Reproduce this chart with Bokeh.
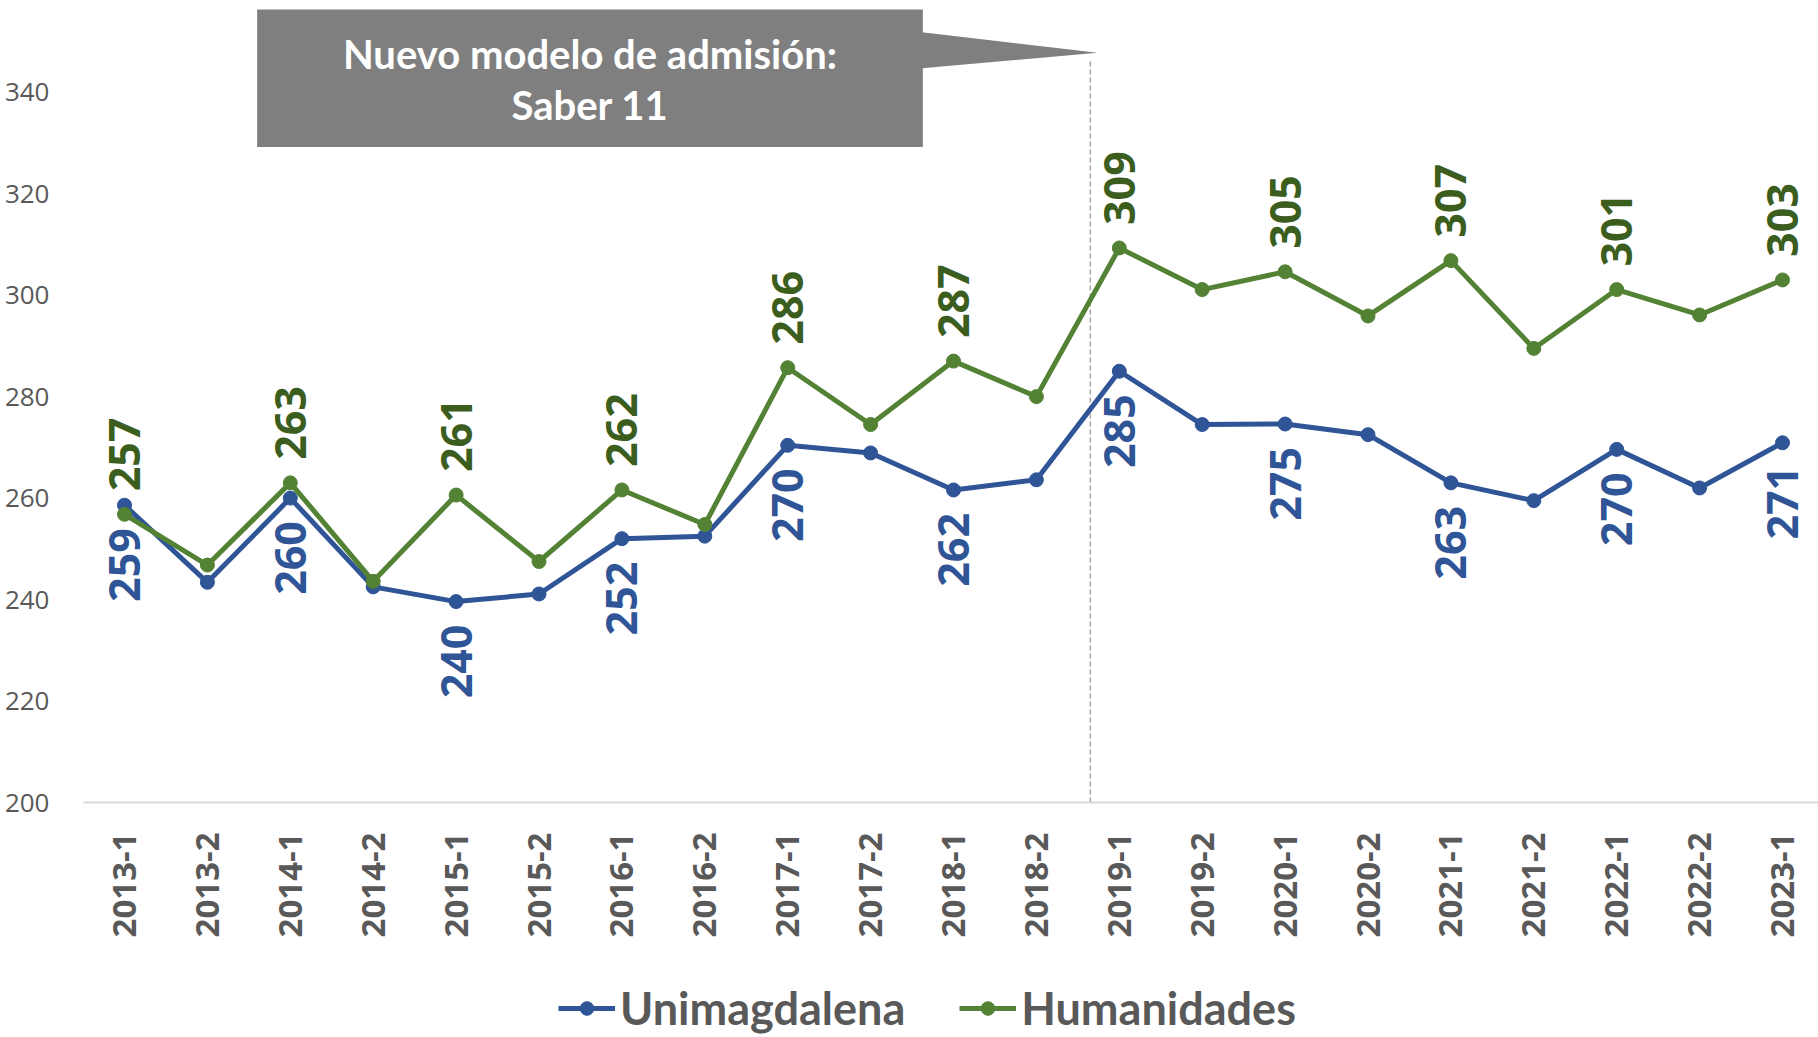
import math
from bokeh.plotting import figure
from bokeh.layouts import column
from bokeh.models import (ColumnDataSource, Range1d, FixedTicker, Legend, LegendItem,
                          Label, BoxAnnotation)
from bokeh.core.properties import value
from bokeh.embed import file_html
from bokeh.resources import INLINE

# ---------------- data ----------------
periods = ["2013-1", "2013-2", "2014-1", "2014-2", "2015-1", "2015-2", "2016-1",
           "2016-2", "2017-1", "2017-2", "2018-1", "2018-2", "2019-1", "2019-2",
           "2020-1", "2020-2", "2021-1", "2021-2", "2022-1", "2022-2", "2023-1"]
unimagdalena = [258.6, 243.4, 260.0, 242.5, 239.6, 241.1, 252.0, 252.5, 270.4, 268.9,
                261.6, 263.6, 285.0, 274.5, 274.6, 272.5, 263.0, 259.5, 269.6, 262.0,
                270.9]
humanidades = [256.8, 246.8, 263.0, 243.6, 260.6, 247.5, 261.6, 254.8, 285.7, 274.5,
               287.0, 280.0, 309.3, 301.1, 304.6, 295.9, 306.8, 289.5, 301.1, 296.1,
               303.0]
y_ticks = [200, 220, 240, 260, 280, 300, 320, 340]
series_names = ["Unimagdalena", "Humanidades"]
callout_lines = ["Nuevo modelo de admisión:", "Saber 11"]
boundary = 11.65  # between 2018-2 and 2019-1 (new admission model)

BLUE = "#2F5597"
GREEN = "#548235"
GREEN_DARK = "#3B5E1F"
GREY_TXT = "#595959"
LW = 5
MS = 14

x = list(range(len(periods)))

p = figure(width=1818, height=940, output_backend="svg", toolbar_location=None,
           x_range=Range1d(-0.4946, 20.434), y_range=Range1d(200, 356.5),
           min_border_left=83, min_border_right=0, min_border_top=8,
           min_border_bottom=134)
p.outline_line_color = None
p.grid.visible = False
p.background_fill_color = "white"
p.border_fill_color = "white"

# axes
p.yaxis.ticker = FixedTicker(ticks=y_ticks)
p.yaxis.axis_line_color = None
p.yaxis.major_tick_line_color = None
p.yaxis.minor_tick_line_color = None
p.yaxis.major_label_standoff = 28
p.yaxis.major_label_text_font = "Open Sans"
p.yaxis.major_label_text_font_size = "26px"
p.yaxis.major_label_text_color = GREY_TXT

p.xaxis.ticker = FixedTicker(ticks=x)
p.xaxis.major_label_overrides = {i: periods[i] for i in x}
p.xaxis.major_label_orientation = math.pi / 2
p.xaxis.axis_line_color = "#D9D9D9"
p.xaxis.axis_line_width = 2
p.xaxis.major_tick_line_color = None
p.xaxis.minor_tick_line_color = None
p.xaxis.major_label_standoff = 24
p.xaxis.major_label_text_font = "Open Sans"
p.xaxis.major_label_text_font_style = "bold"
p.xaxis.major_label_text_font_size = "33px"
p.xaxis.major_label_text_color = GREY_TXT

# callout
p.add_layout(BoxAnnotation(left=1.60, right=9.63, top=356.3, bottom=329.2,
                           fill_color="#7F7F7F", fill_alpha=1.0, line_color=None,
                           level="underlay"))
p.patch([9.62, 9.62, 11.737], [351.8, 344.7, 347.8], fill_color="#7F7F7F",
        line_color=None, level="underlay")
p.segment(x0=[boundary], y0=[200], x1=[boundary], y1=[346.6], line_color="#A6A6A6",
          line_width=1.5, line_dash="5 3")
for txt, yy in zip(callout_lines, [347.6, 337.4]):
    p.add_layout(Label(x=5.615, y=yy, text=txt, text_align="center",
                       text_baseline="middle", text_color="white", text_font="Lato",
                       text_font_style="bold", text_font_size="40px"))

# series
src = ColumnDataSource(dict(x=x, u=unimagdalena, h=humanidades))
p.line("x", "u", source=src, line_color=BLUE, line_width=LW)
p.scatter("x", "u", source=src, size=MS, fill_color=BLUE, line_color=BLUE)
p.line("x", "h", source=src, line_color=GREEN, line_width=LW)
p.scatter("x", "h", source=src, size=MS, fill_color=GREEN, line_color=GREEN)

lab_idx = x[::2]
lab_src = ColumnDataSource(dict(
    x=lab_idx,
    u=[unimagdalena[i] for i in lab_idx],
    h=[humanidades[i] for i in lab_idx],
    ut=[str(round(unimagdalena[i])) for i in lab_idx],
    ht=[str(round(humanidades[i])) for i in lab_idx],
))
p.text("x", "h", text="ht", source=lab_src, angle=math.pi / 2, text_align="left",
       text_baseline="middle", y_offset=-23, text_font=value("Open Sans"),
       text_font_style="bold", text_font_size="43px", text_color=GREEN_DARK)
p.text("x", "u", text="ut", source=lab_src, angle=math.pi / 2, text_align="right",
       text_baseline="middle", y_offset=23, text_font=value("Open Sans"),
       text_font_style="bold", text_font_size="43px", text_color=BLUE)

# legend strip (separate figure so the legend can sit at the very bottom)
q = figure(width=1818, height=97, output_backend="svg", toolbar_location=None,
           x_axis_type=None, y_axis_type=None, x_range=Range1d(0, 1),
           y_range=Range1d(0, 1), min_border_left=0, min_border_right=0,
           min_border_top=0, min_border_bottom=0)
q.outline_line_color = None
q.grid.visible = False
q.background_fill_color = "white"
q.border_fill_color = "white"
# legend-only proxies: one point each, outside the visible range
proxy = ColumnDataSource(dict(x=[-5, -6], y=[-5, -6]))
items = []
for name, col in zip(series_names, [BLUE, GREEN]):
    r1 = q.line("x", "y", source=proxy, line_color=col, line_width=LW)
    r2 = q.scatter("x", "y", source=proxy, size=MS, fill_color=col, line_color=col)
    items.append(LegendItem(label=name, renderers=[r1, r2]))
legend = Legend(items=items, orientation="horizontal", location=(475, 2),
                label_text_font="Lato", label_text_font_style="bold",
                label_text_font_size="45px", label_text_color=GREY_TXT,
                glyph_width=57, glyph_height=34, label_standoff=5, spacing=54,
                padding=0, margin=0, border_line_color=None,
                background_fill_alpha=0.0)
q.add_layout(legend)

layout = column(p, q, spacing=0)
open("out.html", "w").write(file_html(layout, INLINE))
